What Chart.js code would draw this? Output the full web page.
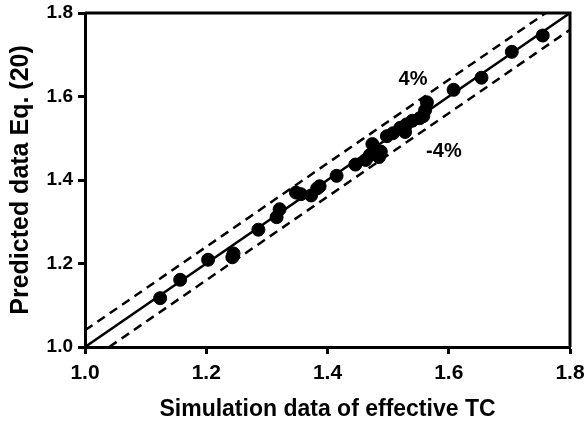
<!DOCTYPE html>
<html>
<head>
<meta charset="utf-8">
<script src="https://cdn.jsdelivr.net/npm/chart.js@4.4.1/dist/chart.umd.min.js"></script>
<style>
  html, body { margin: 0; padding: 0; background: #fff; }
  #wrap { width: 588px; height: 427px; }
</style>
</head>
<body>
<div id="wrap"><canvas id="parityChart"></canvas></div>
<script>
// Simulation vs predicted effective thermal conductivity
const simX = [1.124, 1.157, 1.203, 1.245, 1.243, 1.286, 1.316, 1.321, 1.348, 1.356,
  1.373, 1.383, 1.387, 1.415, 1.446, 1.463, 1.470, 1.474, 1.478, 1.485,
  1.488, 1.498, 1.508, 1.520, 1.530, 1.528, 1.540, 1.552, 1.558, 1.561,
  1.564, 1.608, 1.654, 1.704, 1.755];
const predY = [1.117, 1.161, 1.209, 1.224, 1.215, 1.281, 1.311, 1.330, 1.370, 1.366,
  1.363, 1.380, 1.385, 1.410, 1.437, 1.448, 1.460, 1.486, 1.472, 1.455,
  1.468, 1.505, 1.512, 1.525, 1.533, 1.515, 1.542, 1.548, 1.553, 1.567,
  1.586, 1.616, 1.645, 1.707, 1.746];

// Reference lines: y = x and y = x +/- 0.04
const parityLine = [[1.0, 1.0], [1.8, 1.8]];
const upperLine = [[1.0, 1.04], [1.76, 1.8]];
const lowerLine = [[1.04, 1.0], [1.8, 1.76]];

const tickValues = [1.0, 1.2, 1.4, 1.6, 1.8];

const FONT = "'Liberation Sans', Arial, sans-serif";

function toPoints(arr) {
  return arr.map((p) => ({ x: p[0], y: p[1] }));
}

// Frame on top/right plus the 4% labels
const framePlugin = {
  id: "frame",
  afterDatasetsDraw(chart) {
    const { ctx, chartArea, scales } = chart;
    ctx.save();
    ctx.strokeStyle = "#000";
    ctx.lineWidth = 3;
    ctx.beginPath();
    ctx.moveTo(chartArea.left, chartArea.top);
    ctx.lineTo(chartArea.right, chartArea.top);
    ctx.lineTo(chartArea.right, chartArea.bottom);
    ctx.stroke();

    ctx.fillStyle = "#000";
    ctx.font = "bold 20px " + FONT;
    ctx.textAlign = "center";
    ctx.textBaseline = "middle";
    ctx.fillText("4%", scales.x.getPixelForValue(1.541), scales.y.getPixelForValue(1.640));
    ctx.fillText("-4%", scales.x.getPixelForValue(1.592), scales.y.getPixelForValue(1.469));
    ctx.restore();
  },
};

const gridStyle = {
  drawOnChartArea: false,
  drawTicks: true,
  tickLength: 7,
  tickWidth: 3,
  tickColor: "#000",
};

new Chart(document.getElementById("parityChart"), {
  type: "scatter",
  data: {
    datasets: [
      {
        label: "Data",
        data: simX.map((x, i) => ({ x: x, y: predY[i] })),
        backgroundColor: "#000",
        borderColor: "#000",
        pointRadius: 6.5,
        pointHoverRadius: 6.5,
      },
      {
        type: "line",
        label: "y = x",
        data: toPoints(parityLine),
        borderColor: "#000",
        borderWidth: 2.5,
        pointRadius: 0,
        fill: false,
      },
      {
        type: "line",
        label: "+4%",
        data: toPoints(upperLine),
        borderColor: "#000",
        borderWidth: 2.5,
        borderDash: [9, 6],
        pointRadius: 0,
        fill: false,
      },
      {
        type: "line",
        label: "-4%",
        data: toPoints(lowerLine),
        borderColor: "#000",
        borderWidth: 2.5,
        borderDash: [9, 6],
        pointRadius: 0,
        fill: false,
      },
    ],
  },
  options: {
    responsive: true,
    maintainAspectRatio: false,
    animation: false,
    layout: {
      padding: { left: 0, right: 18, top: 13, bottom: 0 },
    },
    plugins: {
      legend: { display: false },
      tooltip: { enabled: false },
    },
    scales: {
      x: {
        type: "linear",
        min: 1.0,
        max: 1.8,
        afterBuildTicks: (axis) => {
          axis.ticks = tickValues.map((v) => ({ value: v }));
        },
        afterFit: (axis) => {
          axis.height = 80;
          axis.paddingLeft = 0;
          axis.paddingRight = 0;
        },
        ticks: {
          color: "#000",
          font: { family: FONT, size: 21, weight: "bold" },
          padding: 7,
          maxRotation: 0,
          callback: (v) => v.toFixed(1),
        },
        grid: gridStyle,
        border: { display: true, color: "#000", width: 3 },
        title: {
          display: true,
          text: "Simulation data of effective TC",
          color: "#000",
          font: { family: FONT, size: 23, weight: "bold" },
          padding: { top: 0, bottom: 4 },
        },
      },
      y: {
        type: "linear",
        min: 1.0,
        max: 1.8,
        afterBuildTicks: (axis) => {
          axis.ticks = tickValues.map((v) => ({ value: v }));
        },
        afterFit: (axis) => {
          axis.width = 85;
          axis.paddingTop = 0;
          axis.paddingBottom = 0;
        },
        ticks: {
          color: "#000",
          font: { family: FONT, size: 19, weight: "bold" },
          padding: 5,
          callback: (v) => v.toFixed(1),
        },
        grid: gridStyle,
        border: { display: true, color: "#000", width: 3 },
        title: {
          display: true,
          text: "Predicted data Eq. (20)",
          color: "#000",
          font: { family: FONT, size: 25, weight: "bold" },
          padding: { top: 6, bottom: 0 },
        },
      },
    },
  },
  plugins: [framePlugin],
});
</script>
</body>
</html>
